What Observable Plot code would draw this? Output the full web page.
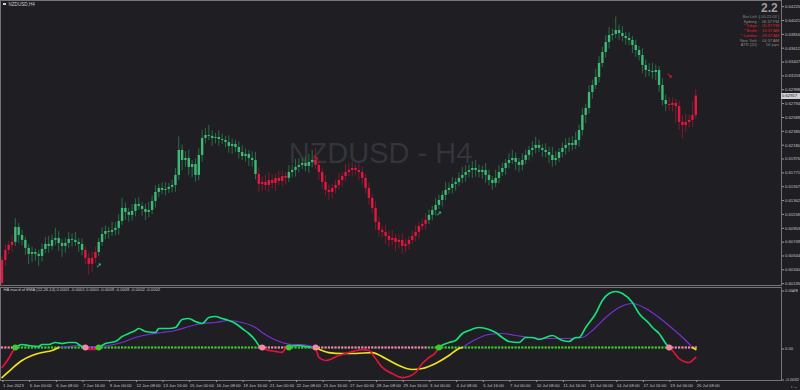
<!DOCTYPE html>
<html><head><meta charset="utf-8">
<script src="https://cdn.jsdelivr.net/npm/d3@7"></script>
<script src="https://cdn.jsdelivr.net/npm/@observablehq/plot@0.6"></script>
<style>
html,body{margin:0;padding:0;background:#1e1e23;}
#wrap{position:relative;width:800px;height:390px;overflow:hidden;background:#1e1e23;font-family:"Liberation Sans",Arial,sans-serif;}
#wrap svg{position:absolute;left:0;}
.abs{position:absolute;white-space:nowrap;line-height:1;}
</style></head><body><div id="wrap"></div>
<script>
// ---------- DATA ----------
const symbolTitle = "NZDUSD,H4";
const watermark = "NZDUSD - H4";
const firstOpen = 0.60151;
const closes = [
0.60490,0.60638,0.60712,0.60756,0.60977,0.60859,0.60786,0.60668,0.60579,0.60608,
0.60579,0.60549,0.60653,0.60727,0.60697,0.60786,0.60815,0.60741,0.60697,0.60741,
0.60800,0.60786,0.60756,0.60727,0.60638,0.60520,0.60431,0.60520,0.60608,0.60756,
0.60874,0.60918,0.60904,0.60933,0.60963,0.61066,0.61258,0.61199,0.61155,0.61214,
0.61317,0.61287,0.61243,0.61199,0.61228,0.61361,0.61494,0.61553,0.61524,0.61538,
0.61568,0.61597,0.61745,0.62114,0.61966,0.61996,0.61863,0.61907,0.61745,0.62040,
0.62291,0.62335,0.62321,0.62291,0.62306,0.62276,0.62262,0.62232,0.62173,0.62203,
0.62158,0.62084,0.62025,0.62055,0.61996,0.61966,0.61760,0.61612,0.61642,0.61597,
0.61671,0.61627,0.61701,0.61656,0.61730,0.61701,0.61789,0.61819,0.61863,0.61893,
0.61922,0.61878,0.61937,0.61966,0.61893,0.61789,0.61642,0.61524,0.61494,0.61553,
0.61597,0.61671,0.61730,0.61789,0.61819,0.61848,0.61819,0.61789,0.61701,0.61553,
0.61406,0.61258,0.61051,0.60933,0.60904,0.60845,0.60786,0.60815,0.60756,0.60786,
0.60697,0.60727,0.60786,0.60845,0.60904,0.60992,0.61022,0.61081,0.61155,0.61228,
0.61302,0.61376,0.61450,0.61524,0.61553,0.61612,0.61642,0.61701,0.61745,0.61789,
0.61819,0.61848,0.61819,0.61789,0.61819,0.61745,0.61671,0.61627,0.61701,0.61789,
0.61848,0.61922,0.61966,0.61996,0.61937,0.61893,0.61966,0.62040,0.62114,0.62144,
0.62188,0.62144,0.62114,0.62084,0.62040,0.61966,0.61996,0.62084,0.62144,0.62188,
0.62217,0.62188,0.62262,0.62409,0.62631,0.62734,0.62970,0.63073,0.63191,0.63398,
0.63560,0.63708,0.63811,0.63826,0.63885,0.63841,0.63797,0.63767,0.63738,0.63664,
0.63590,0.63516,0.63369,0.63295,0.63280,0.63265,0.63295,0.63073,0.62852,0.62793,
0.62778,0.62808,0.62763,0.62527,0.62483,0.62527,0.62557,0.62631,0.62917];
// wick lengths above / below the body, in pips
const upWick = [
5,8,6,10,13,6,8,5,6,8, 5,6,8,10,12,8,15,10,6,8, 10,8,12,6,8,6,8,10,8,6,
10,8,6,12,8,10,15,8,6,10, 8,10,6,8,12,8,10,6,8,10, 6,8,10,20,8,10,12,6,8,10,
12,10,15,8,6,10,8,6,10,8, 6,8,10,8,6,10,12,10,8,10, 12,8,6,10,8,6,10,8,12,10,
8,10,12,15,18,8,6,10,8,6, 8,10,6,12,10,8,6,10,8,6, 8,6,10,8,6,10,8,12,6,8,
10,8,6,8,10,6,8,10,8,6, 10,8,6,12,8,10,6,8,12,10, 8,10,12,8,6,10,8,6,12,10,
8,6,10,12,8,6,10,8,6,10, 12,8,6,10,8,12,10,6,8,10, 8,10,12,8,10,6,10,8,12,10,
8,10,12,8,20,8,10,6,8,6, 8,6,10,8,10,12,8,6,10,8, 10,8,6,8,10,12,8,20,10];
const downWick = [
6,8,6,10,6,12,8,10,15,12, 10,15,8,6,10,6,8,12,16,10, 8,10,6,12,8,10,16,12,8,6,
6,8,10,6,8,10,6,12,10,8, 8,6,10,12,8,6,10,8,6,8, 6,8,10,8,15,10,12,15,10,8,
10,8,6,12,8,10,6,8,10,12, 8,10,6,8,12,10,8,12,10,8, 10,8,12,6,8,10,6,8,10,8,
6,8,10,8,6,12,10,8,12,10, 8,6,10,8,6,10,8,12,10,8, 10,8,12,10,8,12,10,8,14,10,
12,10,8,6,8,10,6,8,6,8, 8,6,10,8,6,8,10,6,8,10, 8,12,10,8,10,12,8,10,6,8,
6,10,8,6,12,10,8,6,8,10, 8,6,10,8,12,10,8,6,8,10, 10,8,6,10,8,12,8,10,6,8,
6,8,10,8,6,10,8,10,8,12, 10,8,12,10,8,10,12,10,8,10, 8,10,25,12,20,10,8,10,6];
// bar ranges where the trend is bearish (red candles, pink zero dots)
const redRanges = [[0,3],[25,28],[77,85],[94,127],[200,208]];
const buyArrowBars = [29,131];
const buyArrowPrices = [0.60417,0.61184];
const sellArrowBars = [94,200];
const sellArrowPrices = [0.62011,0.63221];
const currentPrice = 0.62917;
const priceTickLabels = ["0.64225","0.64021","0.63816","0.63612","0.63407","0.63203","0.62998","0.62794","0.62589","0.62385","0.62180","0.61976","0.61771","0.61567","0.61362","0.61158","0.60953","0.60749","0.60544","0.60340","0.60135"];
const timeTickBars = [0,8,16,24,32,40,48,56,64,72,80,88,96,104,112,120,128,136,144,152,160,168,176,184,192,200,208];
const timeTickLabels = ["1 Jun 2023","5 Jun 00:00","6 Jun 08:00","7 Jun 16:00","9 Jun 00:00","12 Jun 08:00","13 Jun 16:00","15 Jun 00:00","16 Jun 08:00","19 Jun 16:00","21 Jun 00:00","22 Jun 08:00","23 Jun 16:00","27 Jun 00:00","28 Jun 08:00","29 Jun 16:00","3 Jul 00:00","4 Jul 08:00","5 Jul 16:00","7 Jul 00:00","10 Jul 08:00","11 Jul 16:00","13 Jul 00:00","14 Jul 08:00","17 Jul 16:00","19 Jul 00:00","20 Jul 08:00"];
// indicator (HA macd of EMA)
const indTitle = "HA macd of EMA (12,26,14) 0.0001 -0.0001 0.0000 -0.0009 -0.0009 -0.0002 -0.0002";
const macdBars = [0,2,3,4,5,6,8,11,12,14,16,18,20,22,23,25,26,28,29,31,34,36,38,40,41,43,46,47,50,52,54,56,58,60,62,64,66,68,70,72,74,76,77,78,79,82,84,85,86,89,91,93,94,95,97,101,104,108,110,112,114,117,120,122,124,126,128,130,131,134,136,138,140,143,146,148,150,152,155,157,159,161,165,168,170,172,173,175,178,180,182,184,186,189,191,194,195,197,199,200,201,203,206,207,208];
const macdVals = [-0.00206,-0.00114,-0.00052,0,0.0001,0.00015,0.0001,0.00005,0.00015,0.00015,
0.00025,0.0002,0.00025,0.00025,0.00015,-0.0001,-0.0002,-0.0002,0,0.0002,
0.0003,0.00055,0.0007,0.00085,0.00095,0.0008,0.00075,0.00095,0.00095,0.001,
0.0014,0.00145,0.0013,0.0012,0.0015,0.00155,0.00145,0.00135,0.0012,0.00095,
0.0007,0.00035,0.0001,0,-0.0002,-0.0004,-0.0005,-0.0001,0.00005,0.0001,
0.00005,0,-0.0001,-0.00103,-0.00134,-0.00083,-0.00052,-0.00021,-0.00031,-0.00114,
-0.00206,-0.00268,-0.0031,-0.00299,-0.00258,-0.00165,-0.00103,-0.00052,0.00005,0.00025,
0.00035,0.0007,0.00085,0.001,0.0009,0.00075,0.0005,0.0003,0.00025,0.0005,
0.0005,0.0004,0.0006,0.00035,0.0003,0.0005,0.0005,0.001,0.0017,0.00235,
0.0027,0.0028,0.0027,0.00225,0.0017,0.0012,0.001,0.0007,0.0002,0,
-0.00031,-0.00114,-0.00155,-0.00134,-0.00103];
const sigBars = [0,3,6,9,12,15,17,20,23,26,29,32,36,40,44,48,52,56,60,64,68,72,76,78,81,84,87,90,93,94,98,102,106,111,115,119,123,126,130,134,137,138,142,146,150,154,158,164,169,174,177,181,185,189,193,197,201,205,207,208];
const sigVals = [-0.0031,-0.00217,-0.00134,-0.00083,-0.00052,-0.00031,0,0.00005,0.0001,0.00003,
0.00003,0.0001,0.00025,0.0005,0.00065,0.00075,0.00085,0.00105,0.0012,0.00125,
0.00135,0.00125,0.001,0.00075,0.00045,0.00025,0.00015,0.00015,0.00005,0,
-0.00052,-0.00062,-0.00062,-0.00052,-0.00114,-0.00186,-0.00227,-0.00217,-0.00165,-0.00083,
-0.0001,0,0.0004,0.00065,0.0007,0.0006,0.0005,0.00045,0.00045,0.0005,
0.00085,0.0015,0.002,0.0022,0.00195,0.0015,0.00095,0.00035,0,-0.00021];
const crossUpBars = [4,29,86,131];
const crossDownBars = [25,78,94,200];
const indTickValues = [0.0029,0,-0.0032];
const indTickLabels = ["0.0029","0.00","-0.0032"];
const infoBig = "2.2";
const infoLabels = ["Bar Left :","Sydney :","* Tokyo :","* Berlin :","* London :","New York :","ATR (20) :"];
const infoValues = ["[ 00:22:03 ]","06:37 PM","05:37 PM","10:37 AM","09:37 AM","04:37 AM","56 pips"];
const infoHot = [false,false,true,true,true,false,false];

// ---------- BUILD ----------
const GREEN="#3cba76", GREEN_W="#2a6d49", RED="#e3173f", RED_W="#7e1a2e";
const isRed = i => redRanges.some(([a,b]) => i>=a && i<=b);
const bars = closes.map((c,i)=>{
  const o = i===0 ? firstOpen : closes[i-1];
  let top=Math.max(o,c), bot=Math.min(o,c);
  if (top-bot < 0.00006){ top+=0.00003; bot-=0.00003; }
  return {i, top, bot, hi: Math.max(o,c)+upWick[i]*1e-4, lo: Math.min(o,c)-downWick[i]*1e-4, red:isRed(i)};
});
const xDomain=[-0.45,233.7];
const font='"Liberation Sans", Arial, sans-serif';
const wrap=document.getElementById("wrap");

// watermark behind
const wm=document.createElement("div");
wm.className="abs"; wm.textContent=watermark;
Object.assign(wm.style,{left:"-10px",width:"781px",textAlign:"center",top:"139px",fontSize:"29px",color:"#34343b",fontFamily:font});
wrap.appendChild(wm);

const priceTicks = priceTickLabels.map(Number);
const priceMap = new Map(priceTicks.map((v,k)=>[v,priceTickLabels[k]]));

const mainPlot = Plot.plot({
  width:800, height:286, marginLeft:0, marginRight:19, marginTop:0, marginBottom:1,
  x:{domain:xDomain, range:[0,781], axis:null},
  y:{domain:[0.60120,0.64328], range:[285,0], axis:null},
  color:{type:"identity"},
  style:{background:"transparent", color:"#c4c4c4", fontSize:"4.2px", fontFamily:font, overflow:"visible"},
  marks:[
    Plot.frame({stroke:"#74747a"}),
    Plot.ruleX(bars,{x:"i", y1:"lo", y2:"hi", stroke:d=>d.red?RED_W:GREEN_W, strokeWidth:1}),
    Plot.ruleX(bars,{x:"i", y1:"bot", y2:"top", stroke:d=>d.red?RED:GREEN, strokeWidth:2.4}),
    Plot.text(buyArrowBars,{x:d=>d, y:(d,k)=>buyArrowPrices[k], text:()=>"↗", fill:GREEN, fontSize:7, fontWeight:"bold", fontFamily:"DejaVu Sans"}),
    Plot.text(sellArrowBars,{x:d=>d, y:(d,k)=>sellArrowPrices[k], text:()=>"↘", fill:RED, fontSize:7, fontWeight:"bold", fontFamily:"DejaVu Sans"}),
    Plot.axisY({anchor:"right", ticks:priceTicks, tickFormat:d=>priceMap.get(d), tickSize:2, tickPadding:1.5, stroke:"#9a9a9a", fill:"#c4c4c4", dy:-0.8}),
    Plot.text([symbolTitle],{frameAnchor:"top-left", dx:8, dy:2, fill:"#c8c8c8", fontSize:4.6, textAnchor:"start"})
  ]
});
mainPlot.style.top="0px";
wrap.appendChild(mainPlot);

// segments for the indicator lines, coloured by sign
function segs(bx, vals, pos, neg){
  const pts=[]; let id=0, cur=null;
  for(let k=0;k<bx.length-1;k++){
    const col = (vals[k]+vals[k+1])/2 >= 0 ? pos : neg;
    if(col!==cur){ id++; cur=col; pts.push({i:bx[k], v:vals[k], seg:id, col}); }
    pts.push({i:bx[k+1], v:vals[k+1], seg:id, col});
  }
  return pts;
}
const LGREEN="#14e07c", LRED="#e0143c", PURPLE="#7a2fd8", YELLOW="#f2e21a", DGREEN="#3dcc2c", DPINK="#f08aa6";
const macdPts = segs(macdBars, macdVals, LGREEN, LRED);
const sigPts = segs(sigBars, sigVals, PURPLE, YELLOW);
const crosses = crossUpBars.map(b=>({i:b,col:DGREEN})).concat(crossDownBars.map(b=>({i:b,col:DPINK})));
const indMap = new Map(indTickValues.map((v,k)=>[v,indTickLabels[k]]));
const timeMap = new Map(timeTickBars.map((v,k)=>[v,timeTickLabels[k]]));

const indPlot = Plot.plot({
  width:800, height:104, marginLeft:0, marginRight:19, marginTop:1, marginBottom:10,
  x:{domain:xDomain, range:[0,781], axis:null},
  y:{type:"linear", domain:[-0.0032,0,0.0029], range:[92,61,3], axis:null},
  color:{type:"identity"},
  style:{background:"transparent", color:"#c4c4c4", fontSize:"4.2px", fontFamily:font, overflow:"visible"},
  marks:[
    Plot.frame({stroke:"#74747a"}),
    Plot.dot(bars,{x:"i", y:()=>0, symbol:"square", r:1.25, fill:d=>d.red?DPINK:DGREEN, stroke:null}),
    Plot.line(sigPts.filter(d=>d.col===PURPLE),{x:"i", y:"v", z:"seg", stroke:PURPLE, strokeWidth:1.2, curve:"monotone-x"}),
    Plot.line(sigPts.filter(d=>d.col===YELLOW),{x:"i", y:"v", z:"seg", stroke:YELLOW, strokeWidth:1.7, curve:"monotone-x"}),
    Plot.line(macdPts,{x:"i", y:"v", z:"seg", stroke:"col", strokeWidth:1.7, curve:"monotone-x"}),
    Plot.dot(crosses,{x:"i", y:()=>0, r:3, fill:"col", stroke:null}),
    Plot.axisY({anchor:"right", ticks:indTickValues, tickFormat:d=>indMap.get(d), tickSize:2, tickPadding:1.5, stroke:"#9a9a9a", fill:"#c4c4c4", dy:1.5}),
    Plot.axisX({anchor:"bottom", ticks:timeTickBars, tickFormat:d=>timeMap.get(d), tickSize:2, tickPadding:1.5, textAnchor:"start", dx:1, stroke:"#9a9a9a", fill:"#c4c4c4"}),
    Plot.text([indTitle],{frameAnchor:"top-left", dx:3, dy:1, fill:"#c8c8c8", textAnchor:"start"})
  ]
});
indPlot.style.top="286px";
wrap.appendChild(indPlot);

// current price label
const yCur = mainPlot.scale("y").apply(currentPrice);
const cp=document.createElement("div");
cp.className="abs"; cp.textContent=currentPrice.toFixed(5);
Object.assign(cp.style,{left:"781px",top:(yCur-3)+"px",width:"18px",height:"6px",lineHeight:"6px",background:"#cfcfcf",color:"#1e1e23",fontSize:"4.2px",fontFamily:font,paddingLeft:"1px"});
wrap.appendChild(cp);

// info panel
const big=document.createElement("div");
big.className="abs"; big.textContent=infoBig;
Object.assign(big.style,{left:"761px",top:"2px",fontSize:"12px",fontWeight:"bold",color:"#9c9c9c",fontFamily:font});
wrap.appendChild(big);
infoLabels.forEach((lab,k)=>{
  const y=15+k*4.7;
  const a=document.createElement("div"); a.className="abs"; a.textContent=lab;
  Object.assign(a.style,{right:(800-759)+"px",top:y+"px",fontSize:"4px",color:infoHot[k]?"#e0202a":"#8a8a8a",fontFamily:font});
  const b=document.createElement("div"); b.className="abs"; b.textContent=infoValues[k];
  Object.assign(b.style,{right:(800-779)+"px",top:y+"px",fontSize:"4px",color:infoHot[k]?"#e0202a":"#8a8a8a",fontFamily:font});
  wrap.appendChild(a); wrap.appendChild(b);
});
// small chart icon next to title
const ic=document.createElement("div"); ic.className="abs";
Object.assign(ic.style,{left:"3px",top:"3px",width:"3px",height:"2px",background:"#d0d0d0"});
wrap.appendChild(ic);
</script></body></html>
